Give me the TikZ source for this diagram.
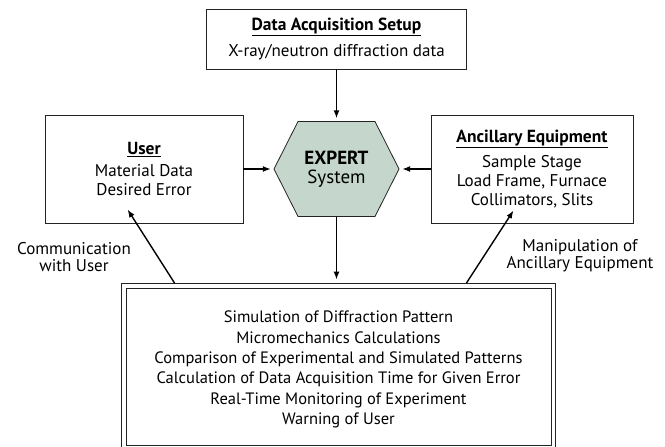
\documentclass[tikz,border=0pt]{standalone}
\usepackage{fontspec}
\setmainfont{PT Sans}
\usetikzlibrary{calc}
\usetikzlibrary{arrows.meta}
\definecolor{sage}{RGB}{197,215,204}
\definecolor{frame}{RGB}{35,35,35}
\newcommand\heading[1]{\underline{\textbf{\fontsize{17.5}{19}\selectfont #1}}}
\tikzset{
  box/.style={draw=frame,line width=0.9pt,align=center,inner sep=0pt,
    font=\fontsize{17}{19}\selectfont},
  tasksbox/.style={box,line width=0.8pt},
  tasktext/.style={align=center,inner sep=0pt,font=\fontsize{16.5}{20.4}\selectfont},
  hexa/.style={fill=sage,draw=frame,line width=0.8pt},
  hexlabel/.style={align=center,inner sep=0pt,font=\fontsize{19}{19}\selectfont},
  note/.style={align=center,inner sep=0pt,font=\fontsize{17}{17}\selectfont},
  conn/.style={line width=1.4pt,-{Latex[length=8pt,width=6pt]}},
}

\begin{document}
\begin{tikzpicture}[x=1pt,y=-1pt]
\useasboundingbox (0,0) rectangle (665,447);
% expert system hexagon
\coordinate (hexc) at (336.5,169);
\filldraw[hexa] ($(hexc)+(-62.5,0)$) -- ($(hexc)+(-38.5,-47.5)$) -- ($(hexc)+(38.5,-47.5)$)
  -- ($(hexc)+(62.5,0)$) -- ($(hexc)+(38.5,47.5)$) -- ($(hexc)+(-38.5,47.5)$) -- cycle;
\node[hexlabel,minimum width=125pt,minimum height=95pt] (expert) at (hexc) {\textbf{EXPERT}\\System};

\node[box,minimum width=260pt,minimum height=60pt] (setup) at (336.5,39) {%
\heading{Data Acquisition Setup}\\[7pt]
X-ray/neutron diffraction data};
\node[box,minimum width=198pt,minimum height=108pt] (user) at (144,169) {%
\heading{User}\\[3pt]
Material Data\\
Desired Error};
\node[box,minimum width=202pt,minimum height=108pt] (ancillary) at (532,169) {%
\heading{Ancillary Equipment}\\[6pt]
Sample Stage\\
Load Frame, Furnace\\
Collimators, Slits};
% task list with a double frame
\node[tasksbox,minimum width=425pt,minimum height=157pt] (tasks) at (338.5,366.5) {};
\draw[frame,line width=0.8pt] ($(tasks.north west)+(-4,-4.5)$) rectangle ($(tasks.south east)+(4,4)$);
\node[tasktext] (tasklist) at ($(tasks.center)+(0,3)$) {%
Simulation of Diffraction Pattern\\
Micromechanics Calculations\\
Comparison of Experimental and Simulated Patterns\\
Calculation of Data Acquisition Time for Given Error\\
Real-Time Monitoring of Experiment\\
Warning of User};

\node[note] (commnote) at (74,257) {Communication\\with User};
\node[note] (maninote) at (580,256) {Manipulation of\\Ancillary Equipment};

% connectors
\draw[conn,shorten >=3pt] (setup) -- (expert);
\draw[conn,shorten >=3pt] (user) -- (expert);
\draw[conn,shorten >=3pt] (ancillary) -- (expert);
\draw[conn,shorten >=8pt] (expert.south) -- (expert.south |- tasks.north);
\coordinate (commfoot) at ($(tasks.north west)+(49,-4.5)$);
\coordinate (commtip) at ($(user.south west)+(83,-14)$);
\coordinate (manifoot) at ($(tasks.north east)+(-85,-4.5)$);
\coordinate (manitip) at ($(ancillary.south west)+(83,-13)$);
\draw[conn] (commfoot) -- (commtip);
\draw[conn] (manifoot) -- (manitip);
\end{tikzpicture}
\end{document}
